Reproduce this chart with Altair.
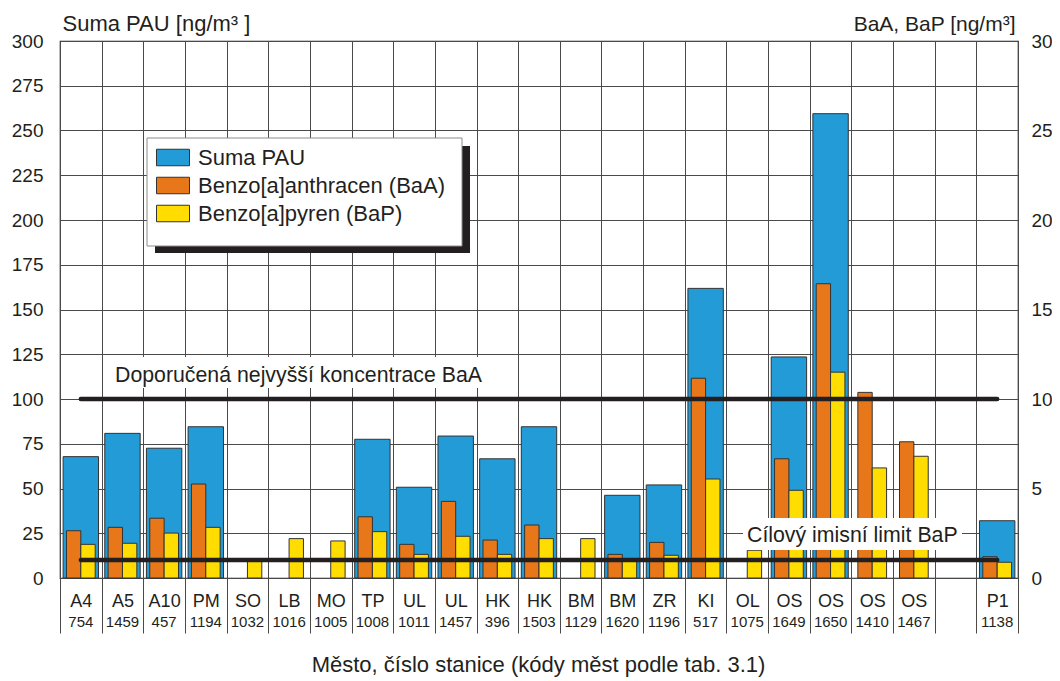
import altair as alt
import pandas as pd

# ---------------- data ----------------
codes = ["A4", "A5", "A10", "PM", "SO", "LB", "MO", "TP", "UL", "UL", "HK", "HK",
         "BM", "BM", "ZR", "KI", "OL", "OS", "OS", "OS", "OS", "", "P1"]
stations = ["754", "1459", "457", "1194", "1032", "1016", "1005", "1008", "1011", "1457",
            "396", "1503", "1129", "1620", "1196", "517", "1075", "1649", "1650", "1410",
            "1467", "", "1138"]
suma_pau = [67.8, 80.8, 72.5, 84.5, None, None, None, 77.5, 50.7, 79.3, 66.6, 84.5,
            None, 46.2, 52.0, 161.8, None, 123.5, 259.4, None, None, None, 32.0]
baa = [2.64, 2.83, 3.34, 5.25, None, None, None, 3.42, 1.88, 4.28, 2.12, 2.96,
       None, 1.32, 1.99, 11.16, None, 6.66, 16.44, 10.37, 7.61, None, 1.19]
bap = [1.88, 1.94, 2.51, 2.83, 0.95, 2.20, 2.07, 2.59, 1.32, 2.33, 1.32, 2.20,
       2.20, 0.95, 1.27, 5.53, 1.55, 4.90, 11.5, 6.15, 6.80, None, 0.88]

series_names = ["Suma PAU", "Benzo[a]anthracen (BaA)", "Benzo[a]pyren (BaP)"]
series_colors = ["#239BD7", "#E8771A", "#FFDD00"]

limit_values = [10, 1]
limit_labels = ["Doporučená nejvyšší koncentrace BaA", "Cílový imisní limit BaP"]

left_ticks = [0, 25, 50, 75, 100, 125, 150, 175, 200, 225, 250, 275, 300]
right_ticks = [0, 5, 10, 15, 20, 25, 30]

# ---------------- tables ----------------
keys = ["gap" if c == "" else f"{c} {s}" for c, s in zip(codes, stations)]

sum_df = pd.DataFrame({"key": keys, "value": suma_pau, "name": series_names[0]}).dropna()
rows = []
for k, a, p in zip(keys, baa, bap):
    if a is not None:
        rows.append({"key": k, "series": "BaA", "name": series_names[1], "value": a})
    if p is not None:
        rows.append({"key": k, "series": "BaP", "name": series_names[2], "value": p})
small_df = pd.DataFrame(rows)
st_df = pd.DataFrame({"key": keys, "station": stations})
st_df = st_df[st_df["key"] != "gap"]
lim_df = pd.DataFrame({"key": [keys[0]] * 2, "end": [keys[-1]] * 2, "value": limit_values})

FONT = "Liberation Sans"
INK = "#231F20"
GRID = "#4a4a4a"

x_scale = alt.Scale(domain=keys, paddingInner=0, paddingOuter=0)
left_scale = alt.Scale(domain=[0, 300], nice=False)
right_scale = alt.Scale(domain=[0, 30], nice=False)

x_axis = alt.Axis(
    title="Město, číslo stanice (kódy měst podle tab. 3.1)",
    titleFontSize=22, titleX=478, titleY=93, titleBaseline="alphabetic",
    labelExpr="isString(datum.value) && datum.value != 'gap' ? split(datum.value, ' ')[0] : ''",
    labelFontSize=18, labelBaseline="alphabetic", labelPadding=-26.3,
    labelOverlap=False, labelAngle=0,
    tickBand="extent", ticks=True, tickSize=55, tickColor=GRID, tickWidth=1,
    grid=True, gridColor=GRID, gridWidth=1, domain=False,
)
left_axis = alt.Axis(
    title="Suma PAU [ng/m³ ]", titleAngle=0, titleAlign="left", titleX=2, titleY=-11,
    titleBaseline="alphabetic", titleFontSize=22,
    values=left_ticks, labelFontSize=19, labelPadding=17, ticks=False, domain=False,
    grid=True, gridColor=GRID, gridWidth=1,
)
right_axis = alt.Axis(
    title="BaA, BaP [ng/m³]", titleAngle=0, titleAlign="right", titleX=-3, titleY=-11,
    titleBaseline="alphabetic", titleFontSize=21, orient="right",
    values=right_ticks, labelFontSize=19, labelPadding=13, labelAlign="left",
    ticks=False, domain=False, grid=False,
)
legend = alt.Legend(
    orient="none", legendX=96, legendY=99.5, title=None, direction="vertical",
    symbolType="M-1,-0.5H1V0.5H-1Z", symbolSize=1089, symbolStrokeColor="#333333",
    symbolStrokeWidth=1, labelFontSize=22, labelFont=FONT, labelColor=INK,
    labelOffset=8, rowPadding=0, padding=0, labelLimit=400,
)
color_enc = alt.Color("name:N", scale=alt.Scale(domain=series_names, range=series_colors),
                      legend=legend)


def xk(field="key"):
    return alt.X(f"{field}:N", scale=x_scale, axis=x_axis, title=x_axis.title)


blue = alt.Chart(sum_df).mark_bar(
    width=alt.RelativeBandSize(0.85), stroke="#333333", strokeWidth=1
).encode(
    x=xk(),
    y=alt.Y("value:Q", scale=left_scale, axis=left_axis),
    color=color_enc,
)

small = alt.Chart(small_df).mark_bar(stroke="#333333", strokeWidth=1).encode(
    x=xk(),
    xOffset=alt.XOffset("series:N", scale=alt.Scale(domain=["BaA", "BaP"],
                                                     paddingInner=0, paddingOuter=0.45)),
    y=alt.Y("value:Q", scale=right_scale, axis=right_axis),
    color=color_enc,
)

rules = alt.Chart(lim_df).mark_rule(strokeWidth=4.5, color=INK, strokeCap="round").encode(
    x=alt.X("key:N", scale=x_scale, axis=x_axis, bandPosition=0.5),
    x2=alt.X2("end:N", bandPosition=0.5),
    y=alt.Y("value:Q", scale=right_scale, axis=right_axis),
)

one = pd.DataFrame({"a": [0]})
box1 = alt.Chart(one).mark_rect(fill="white").encode(
    x=alt.value(48), x2=alt.value(430), y=alt.value(316), y2=alt.value(347))
box2 = alt.Chart(one).mark_rect(fill="white").encode(
    x=alt.value(683), x2=alt.value(902), y=alt.value(477), y2=alt.value(509))
txt1 = alt.Chart(pd.DataFrame({"label": [limit_labels[0]]})).mark_text(
    align="left", baseline="alphabetic", fontSize=21.3, font=FONT, color=INK
).encode(x=alt.value(55), y=alt.value(341), text="label:N")
txt2 = alt.Chart(pd.DataFrame({"label": [limit_labels[1]]})).mark_text(
    align="left", baseline="alphabetic", fontSize=21.3, font=FONT, color=INK
).encode(x=alt.value(687), y=alt.value(500.7), text="label:N")

shadow = alt.Chart(one).mark_rect(fill=INK).encode(
    x=alt.value(95), x2=alt.value(410), y=alt.value(105), y2=alt.value(212))
legbox = alt.Chart(one).mark_rect(fill="white", stroke="#8c8c8c", strokeWidth=1).encode(
    x=alt.value(87), x2=alt.value(402), y=alt.value(97), y2=alt.value(205))

st_text = alt.Chart(st_df).mark_text(
    baseline="alphabetic", align="center", fontSize=15, font=FONT, color=INK
).encode(x=xk(), y=alt.value(586.3), text="station:N")

inner = alt.layer(small, rules, box1, box2, txt1, txt2, shadow, legbox, st_text)

chart = alt.layer(blue, inner).resolve_scale(y="independent").properties(
    width=958, height=537,
    autosize=alt.AutoSizeParams(type="none"),
    padding={"left": 52, "top": 33, "right": 34, "bottom": 100},
).configure_view(
    stroke=INK, strokeWidth=1.2
).configure_axis(
    labelFont=FONT, titleFont=FONT, labelColor=INK, titleColor=INK, titleFontWeight="normal"
)

chart.save("out.html", embed_options={"renderer": "svg", "actions": False})
